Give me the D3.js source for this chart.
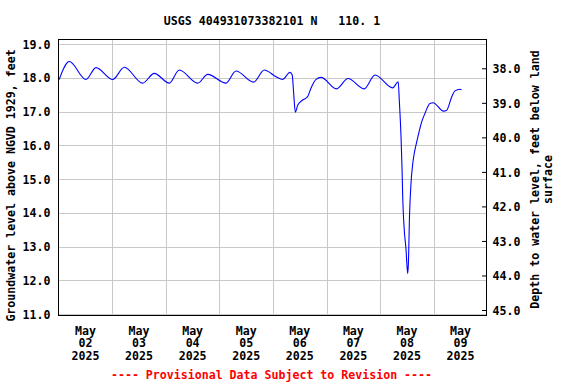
<!DOCTYPE html>
<html><head><meta charset="utf-8">
<script src="https://cdn.jsdelivr.net/npm/d3@7"></script>
<style>
body{margin:0;background:#fff}
text{font-family:"DejaVu Sans Mono","Liberation Mono",monospace;font-weight:bold;font-size:11.6px;fill:#000}
</style>
</head><body>
<svg id="chart" width="576" height="384"></svg>
<script>
// ---------- data ----------
const chartTitle = "USGS 404931073382101 N   110. 1";
const leftAxisTitle = "Groundwater level above NGVD 1929, feet";
const rightAxisTitle = ["Depth to water level, feet below land", "surface"];
const footnote = "---- Provisional Data Subject to Revision ----";
const startTime = new Date(2025, 4, 2, 0, 0);
const endTime = new Date(2025, 4, 10, 0, 0);
const dayLabels = [
  ["May", "02", "2025"], ["May", "03", "2025"], ["May", "04", "2025"], ["May", "05", "2025"],
  ["May", "06", "2025"], ["May", "07", "2025"], ["May", "08", "2025"], ["May", "09", "2025"]
];
const levelTicks = [11, 12, 13, 14, 15, 16, 17, 18, 19];
const depthTicks = [38, 39, 40, 41, 42, 43, 44, 45];
// observation times (hours after May 02 2025 00:00) and groundwater level (ft)
const obsHours = [
  0.2, 4.75, 12.2, 16.7, 24.2, 29.4, 37.6, 42.8, 49.55, 54.0, 62.3, 66.75, 74.95, 79.4,
  87.35, 92.1, 97.4, 100.3, 103.6, 104.6, 105.3, 106.0, 107.1, 109.3, 111.5, 113.0,
  115.3, 117.5, 124.45, 129.6, 136.8, 141.7, 149.6, 152.1, 152.6, 153.35, 153.8, 154.1,
  154.8, 155.6, 156.0, 156.35, 156.65, 157.15, 157.8, 158.5, 159.3, 160.4, 161.4, 162.6,
  164.1, 166.3, 167.7, 172.4, 173.7, 176.1, 177.5, 179.8, 180.5
];
const gwLevel = [
  17.95, 18.48, 17.95, 18.30, 17.95, 18.31, 17.84, 18.13, 17.84, 18.23, 17.84, 18.10, 17.84, 18.20,
  17.87, 18.23, 18.03, 17.95, 18.16, 18.08, 17.50, 16.98, 17.19, 17.34, 17.44, 17.69,
  17.95, 18.01, 17.67, 17.98, 17.67, 18.08, 17.70, 17.88, 17.30, 16.25, 15.32, 14.48,
  13.49, 12.90, 12.45, 12.20, 12.50, 13.90, 14.85, 15.40, 15.77, 16.10, 16.39, 16.69,
  16.95, 17.24, 17.26, 17.01, 17.03, 17.44, 17.61, 17.66, 17.64
];

// ---------- layout ----------
const box = {left: 58.5, top: 39.5, right: 486.5, bottom: 315.5};
const svg = d3.select("#chart");

const x = d3.scaleTime().domain([startTime, endTime]).range([58.7, 487.3]);
const y = d3.scaleLinear().domain([11, 19]).range([314, 44]);
const yDepth = d3.scaleLinear().domain([38, 45]).range([68.3, 310]);

const points = obsHours.map((h, i) => ({t: d3.timeMinute.offset(startTime, Math.round(h * 60)), v: gwLevel[i]}));

// grid
const grid = svg.append("g").attr("stroke", "#c8c8c8").attr("stroke-width", 1);
grid.selectAll("line.h").data(levelTicks).join("line")
  .attr("x1", box.left).attr("x2", box.right)
  .attr("y1", d => Math.round(y(d)) + 0.5).attr("y2", d => Math.round(y(d)) + 0.5);
const midnights = d3.timeDay.range(d3.timeDay.offset(startTime, 1), endTime);
grid.selectAll("line.v").data(midnights).join("line")
  .attr("y1", box.top).attr("y2", box.bottom)
  .attr("x1", d => Math.round(x(d)) + 0.5).attr("x2", d => Math.round(x(d)) + 0.5);

// data line
const clipId = "plotclip";
svg.append("clipPath").attr("id", clipId).append("rect")
  .attr("x", box.left).attr("y", box.top).attr("width", box.right - box.left).attr("height", box.bottom - box.top);
svg.append("path").datum(points)
  .attr("clip-path", `url(#${clipId})`)
  .attr("fill", "none").attr("stroke", "#0000ff").attr("stroke-width", 1.1)
  .attr("d", d3.line().x(d => x(d.t)).y(d => y(d.v)).curve(d3.curveMonotoneX));

// frame
svg.append("rect").attr("x", box.left).attr("y", box.top)
  .attr("width", box.right - box.left).attr("height", box.bottom - box.top)
  .attr("fill", "none").attr("stroke", "#000").attr("stroke-width", 1);

// left axis (labels only)
const leftAxis = svg.append("g").attr("transform", `translate(${box.left},0)`)
  .call(d3.axisLeft(y).tickValues(levelTicks).tickFormat(d3.format(".1f")).tickSize(0).tickPadding(8));
leftAxis.select(".domain").remove();
leftAxis.selectAll("text").attr("font-family", null).attr("font-size", null).attr("dy", "0.36em");

// right axis (inward ticks)
const rightAxis = svg.append("g").attr("transform", `translate(${box.right - 0.5},0)`)
  .call(d3.axisRight(yDepth).tickValues(depthTicks).tickFormat(d3.format(".1f")).tickSizeInner(-4).tickSizeOuter(0).tickPadding(6.5));
rightAxis.select(".domain").remove();
rightAxis.selectAll("line").attr("stroke", "#000");
rightAxis.selectAll("text").attr("font-family", null).attr("font-size", null).attr("dy", "0.36em");

// bottom labels at noon of each day
const noons = d3.timeDay.range(startTime, endTime).map(d => d3.timeHour.offset(d, 12));
const xl = svg.append("g").attr("text-anchor", "middle");
noons.forEach((d, i) => {
  const t = xl.append("text").attr("x", x(d)).attr("y", 334.7);
  dayLabels[i].forEach((s, j) => {
    t.append("tspan").attr("x", x(d)).attr("y", 334.7 + j * 12.7).text(s);
  });
});

// titles
svg.append("text").attr("x", 272).attr("y", 24.5).attr("text-anchor", "middle")
  .style("white-space", "pre").text(chartTitle);
svg.append("text").attr("transform", "translate(14.5,185.5) rotate(-90)")
  .attr("text-anchor", "middle").text(leftAxisTitle);
rightAxisTitle.forEach((s, i) => {
  svg.append("text").attr("transform", `translate(${539 + i * 13},179.5) rotate(-90)`)
    .attr("text-anchor", "middle").text(s);
});
svg.append("text").attr("x", 271.5).attr("y", 378.5).attr("text-anchor", "middle")
  .style("fill", "#ff0000").text(footnote);
</script>
</body></html>
